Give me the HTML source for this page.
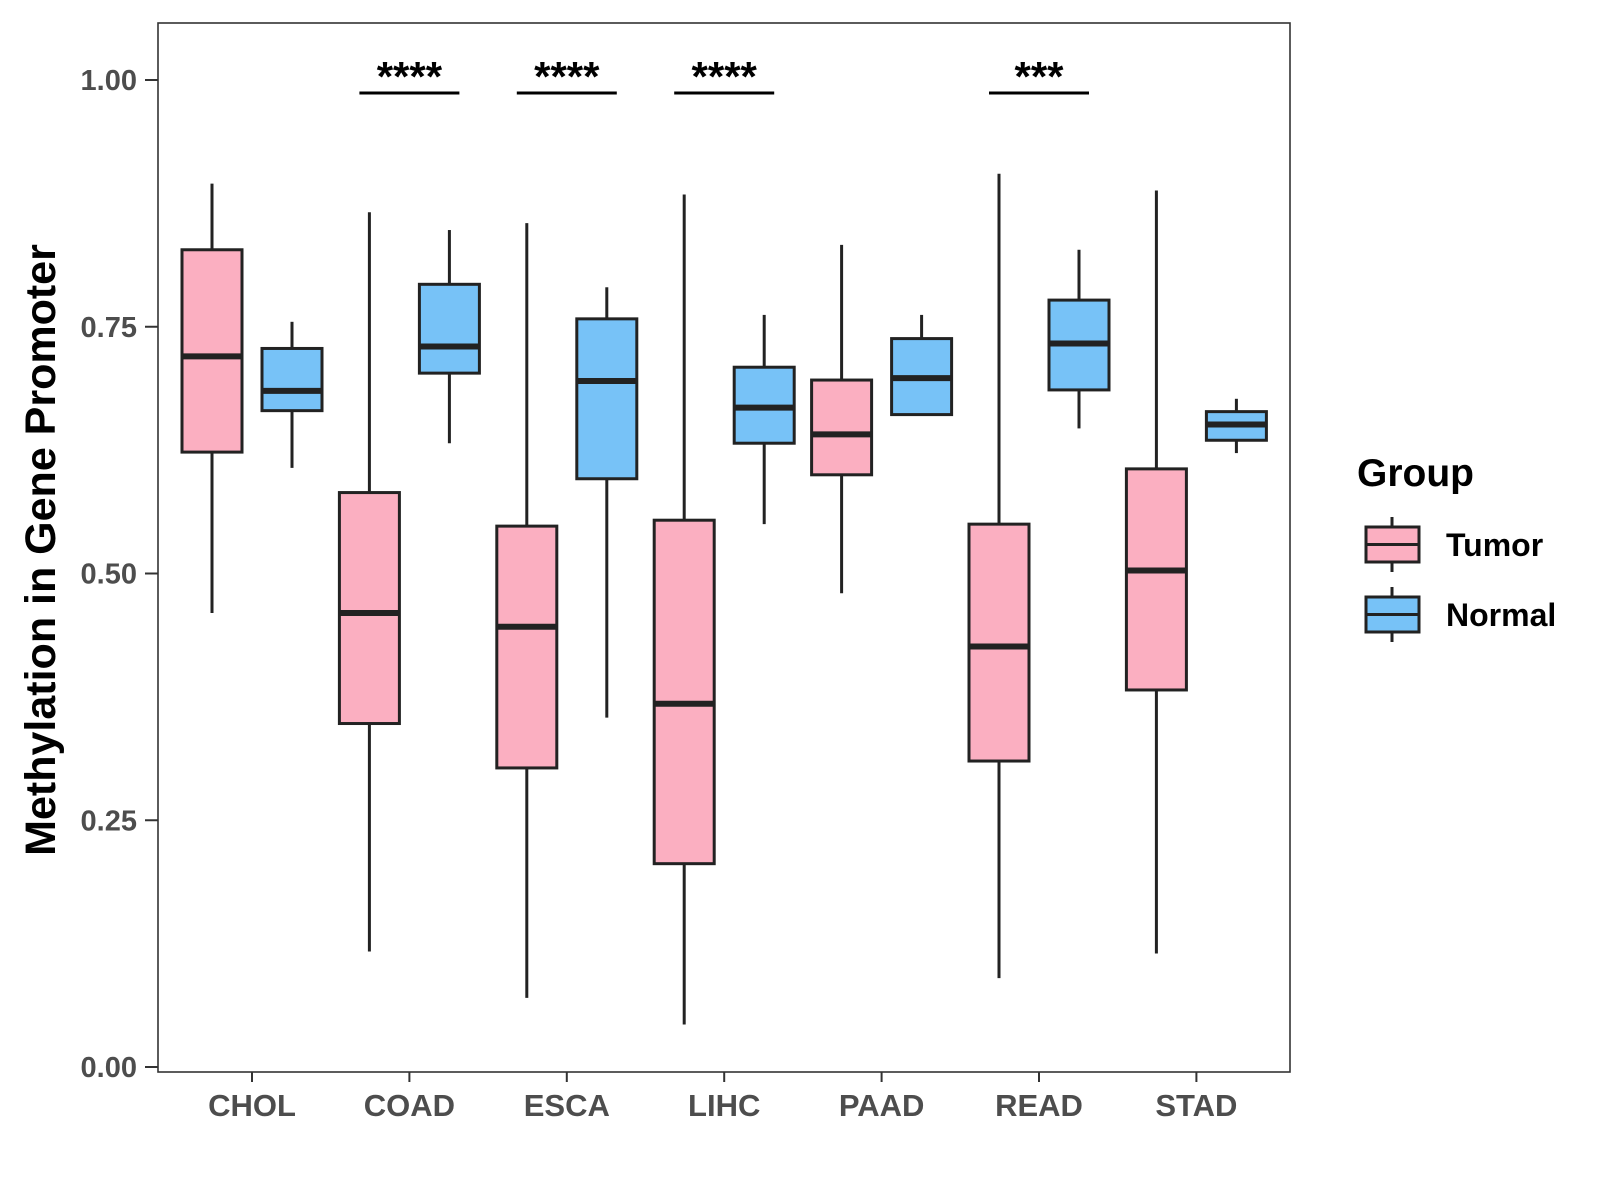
<!DOCTYPE html>
<html><head><meta charset="utf-8"><style>
body{margin:0;background:#fff}
svg{display:block;font-family:"Liberation Sans",Arial,sans-serif}
</style></head><body>
<svg id="chart" width="1600" height="1200" xmlns="http://www.w3.org/2000/svg"></svg>
<script>
const categories=["CHOL","COAD","ESCA","LIHC","PAAD","READ","STAD"];
const tumorLow=[0.46,0.117,0.07,0.043,0.48,0.09,0.115];
const tumorQ1=[0.623,0.348,0.303,0.206,0.6,0.31,0.382];
const tumorMed=[0.72,0.46,0.446,0.368,0.641,0.426,0.503];
const tumorQ3=[0.828,0.582,0.548,0.554,0.696,0.55,0.606];
const tumorHigh=[0.895,0.866,0.855,0.884,0.833,0.905,0.888];
const normalLow=[0.607,0.632,0.354,0.55,0.661,0.647,0.622];
const normalQ1=[0.665,0.703,0.596,0.632,0.661,0.686,0.635];
const normalMed=[0.685,0.73,0.695,0.668,0.698,0.733,0.651];
const normalQ3=[0.728,0.793,0.758,0.709,0.738,0.777,0.664];
const normalHigh=[0.755,0.848,0.79,0.762,0.762,0.828,0.677];
const sigLabels=["","****","****","****","","***",""];
const yTicks=[0,0.25,0.5,0.75,1.0];
const yTickLabels=["0.00","0.25","0.50","0.75","1.00"];

const NS="http://www.w3.org/2000/svg";
const svg=document.getElementById('chart');
const L=158,R=1290,T=23,B=1072;
const y=v=>1067-987*v;
const x=i=>252+i*157.4;
function el(tag,attrs,parent){const e=document.createElementNS(NS,tag);for(const k in attrs)e.setAttribute(k,attrs[k]);(parent||svg).appendChild(e);return e;}

const panel=el('rect',{x:L,y:T,width:R-L,height:B-T,fill:'#fff',stroke:'#333','stroke-width':1.6});



yTicks.forEach((v,i)=>{
  const t=el('line',{x1:145,x2:L,y1:y(v),y2:y(v),stroke:'#333','stroke-width':2});
  
  
  const tx=el('text',{x:137,y:y(v)+10,'text-anchor':'end','font-size':29,'font-weight':'bold',fill:'#4d4d4d'});
  tx.textContent=yTickLabels[i];
  
  
});
categories.forEach((c,i)=>{
  const t=el('line',{x1:x(i),x2:x(i),y1:B,y2:B+10,stroke:'#333','stroke-width':2});
  
  
  const tx=el('text',{x:x(i),y:1116,'text-anchor':'middle','font-size':31,'font-weight':'bold',fill:'#4d4d4d'});
  tx.textContent=c;
  
  
});

function box(cx,lo,q1,md,q3,hi,fill,name){
  const g=el('g',{});
  
  
  el('line',{x1:cx,x2:cx,y1:y(hi),y2:y(q3),stroke:'#222','stroke-width':3},g);
  el('line',{x1:cx,x2:cx,y1:y(q1),y2:y(lo),stroke:'#222','stroke-width':3},g);
  el('rect',{x:cx-30,y:y(q3),width:60,height:y(q1)-y(q3),fill:fill,stroke:'#222','stroke-width':3},g);
  el('line',{x1:cx-30,x2:cx+30,y1:y(md),y2:y(md),stroke:'#222','stroke-width':6},g);
}
categories.forEach((c,i)=>{
  box(x(i)-40,tumorLow[i],tumorQ1[i],tumorMed[i],tumorQ3[i],tumorHigh[i],'#fbafc1','box-tumor-'+c.toLowerCase());
  box(x(i)+40,normalLow[i],normalQ1[i],normalMed[i],normalQ3[i],normalHigh[i],'#77c2f7','box-normal-'+c.toLowerCase());
  if(sigLabels[i]){
    const l=el('line',{x1:x(i)-50,x2:x(i)+50,y1:93,y2:93,stroke:'#000','stroke-width':3});
    
    
    const s=el('text',{x:x(i),y:91,'text-anchor':'middle','font-size':42,'font-weight':'bold',fill:'#000'});
    s.textContent=sigLabels[i];
    
    
  }
});

const yt=el('text',{x:0,y:0,transform:'translate(55,550) rotate(-90)','text-anchor':'middle','font-size':43,'font-weight':'bold',fill:'#000'});
yt.textContent='Methylation in Gene Promoter';



const lt=el('text',{x:1357,y:486,'font-size':39,'font-weight':'bold',fill:'#000'});
lt.textContent='Group';


[['Tumor','#fbafc1',527],['Normal','#77c2f7',597]].forEach(([lab,col,ty])=>{
  const g=el('g',{});
  
  
  el('line',{x1:1392,x2:1392,y1:ty-10,y2:ty+45,stroke:'#222','stroke-width':3},g);
  el('rect',{x:1366,y:ty,width:53,height:35,fill:col,stroke:'#222','stroke-width':3},g);
  el('line',{x1:1366,x2:1419,y1:ty+17.5,y2:ty+17.5,stroke:'#222','stroke-width':3},g);
  const t=el('text',{x:1446,y:ty+29,'font-size':32,'font-weight':'bold',fill:'#000'},g);
  t.textContent=lab;
});
</script>
</body></html>
